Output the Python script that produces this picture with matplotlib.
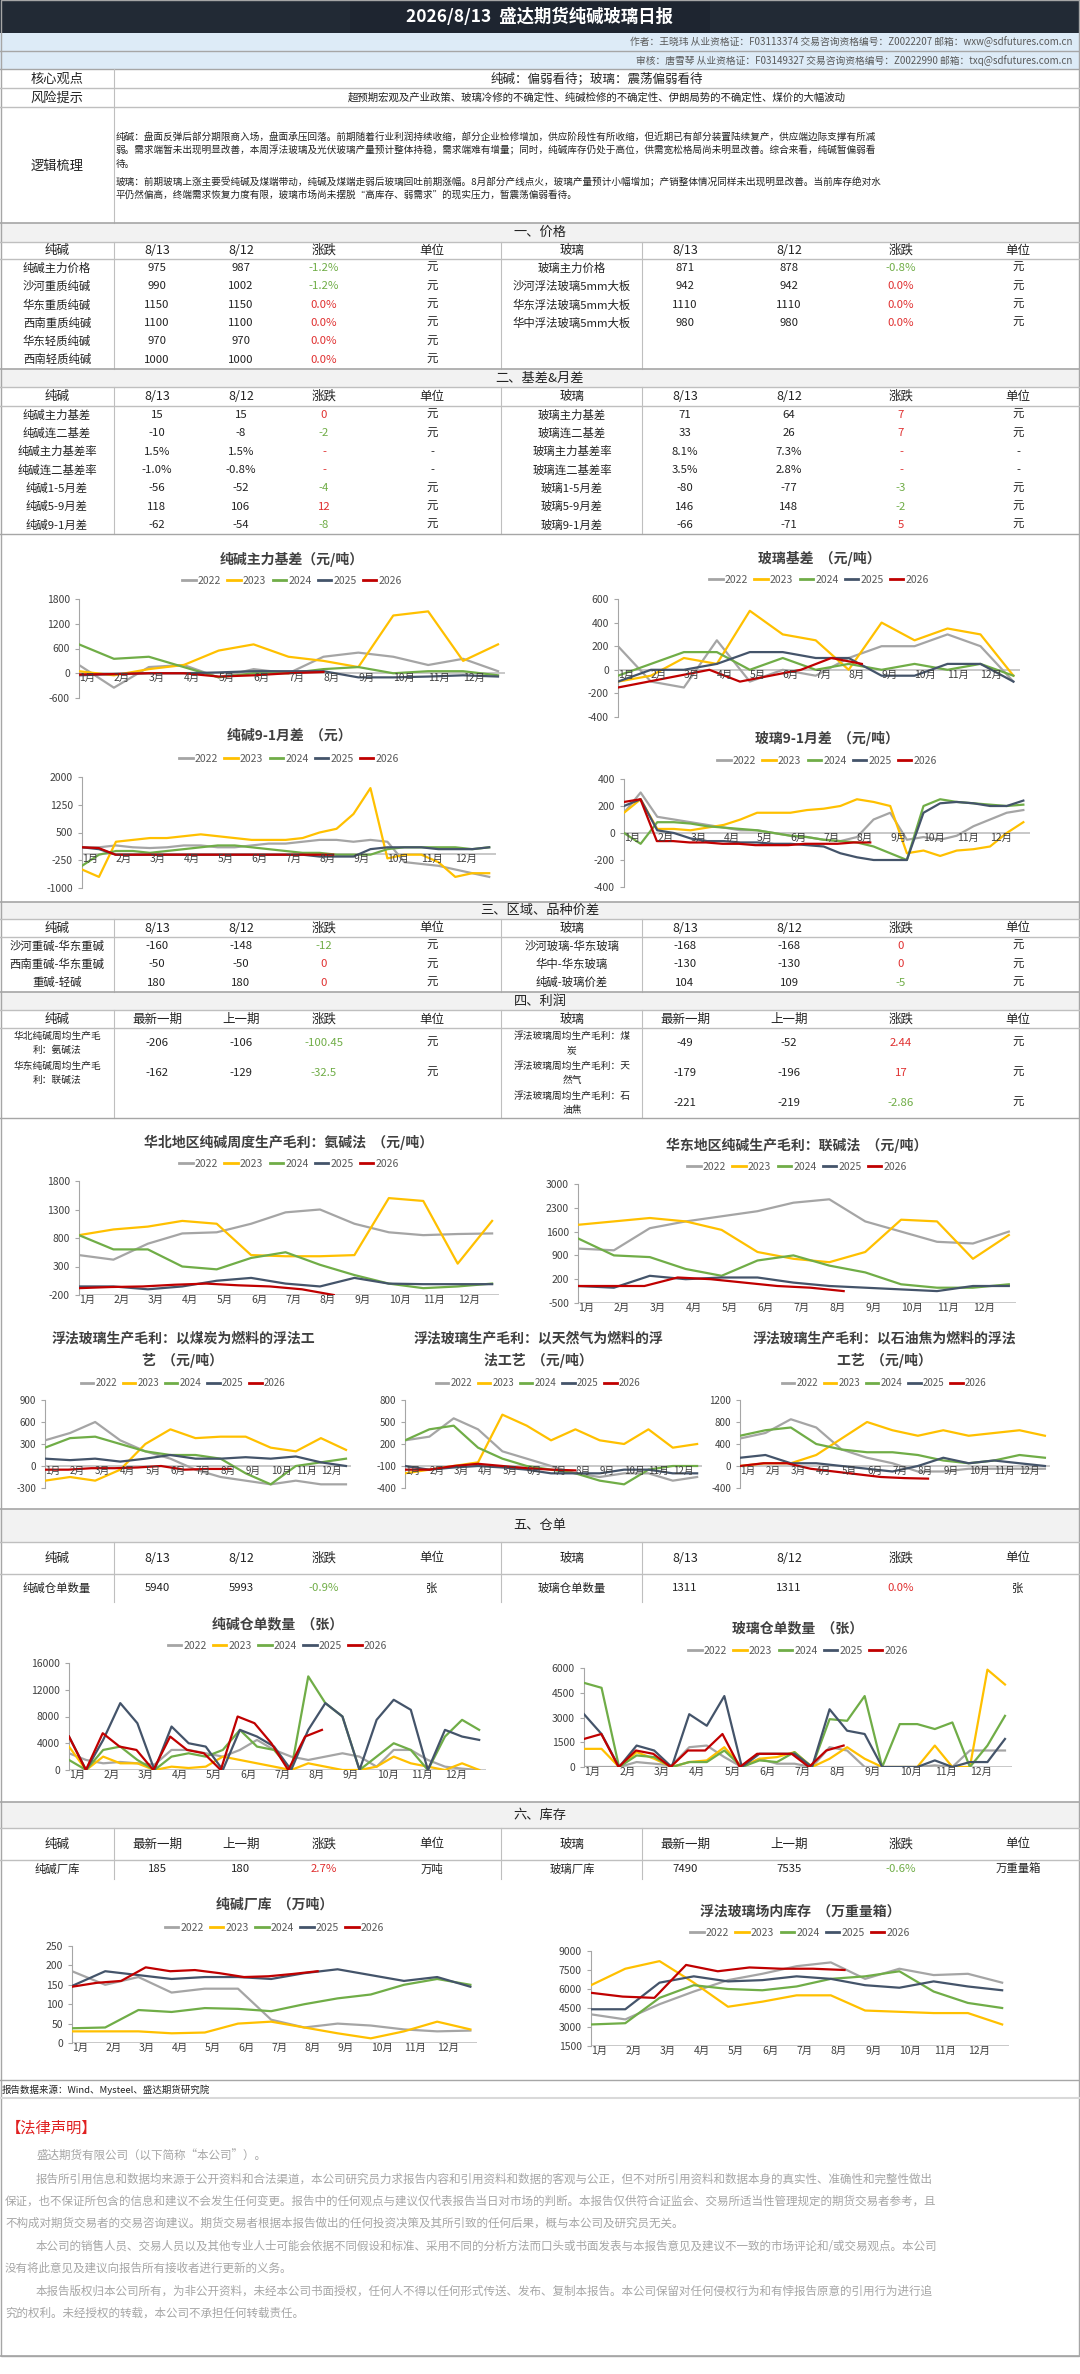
import numpy as np
import matplotlib
matplotlib.use("Agg")
import matplotlib.pyplot as plt
from matplotlib.patches import Rectangle

plt.rcParams['font.family'] = ['Noto Sans CJK SC', 'DejaVu Sans']
plt.rcParams['axes.unicode_minus'] = False

W, H = 1080, 2374
YEARS = ['2022', '2023', '2024', '2025', '2026']
COLORS = ['#A5A5A5', '#FFC000', '#70AD47', '#44546A', '#C00000']
MONTHS = ['1月', '2月', '3月', '4月', '5月', '6月', '7月', '8月', '9月', '10月', '11月', '12月']
END_2026 = 7.4
GREEN, RED = '#70AD47', '#E03030'

# ---------------- table data ----------------
price_soda = [['纯碱主力价格', '975', '987', '-1.2%', '元'],
              ['沙河重质纯碱', '990', '1002', '-1.2%', '元'],
              ['华东重质纯碱', '1150', '1150', '0.0%', '元'],
              ['西南重质纯碱', '1100', '1100', '0.0%', '元'],
              ['华东轻质纯碱', '970', '970', '0.0%', '元'],
              ['西南轻质纯碱', '1000', '1000', '0.0%', '元']]
price_glass = [['玻璃主力价格', '871', '878', '-0.8%', '元'],
               ['沙河浮法玻璃5mm大板', '942', '942', '0.0%', '元'],
               ['华东浮法玻璃5mm大板', '1110', '1110', '0.0%', '元'],
               ['华中浮法玻璃5mm大板', '980', '980', '0.0%', '元']]
basis_soda = [['纯碱主力基差', '15', '15', '0', '元'],
              ['纯碱连二基差', '-10', '-8', '-2', '元'],
              ['纯碱主力基差率', '1.5%', '1.5%', '-', '-'],
              ['纯碱连二基差率', '-1.0%', '-0.8%', '-', '-'],
              ['纯碱1-5月差', '-56', '-52', '-4', '元'],
              ['纯碱5-9月差', '118', '106', '12', '元'],
              ['纯碱9-1月差', '-62', '-54', '-8', '元']]
basis_glass = [['玻璃主力基差', '71', '64', '7', '元'],
               ['玻璃连二基差', '33', '26', '7', '元'],
               ['玻璃主力基差率', '8.1%', '7.3%', '-', '-'],
               ['玻璃连二基差率', '3.5%', '2.8%', '-', '-'],
               ['玻璃1-5月差', '-80', '-77', '-3', '元'],
               ['玻璃5-9月差', '146', '148', '-2', '元'],
               ['玻璃9-1月差', '-66', '-71', '5', '元']]
spread_soda = [['沙河重碱-华东重碱', '-160', '-148', '-12', '元'],
               ['西南重碱-华东重碱', '-50', '-50', '0', '元'],
               ['重碱-轻碱', '180', '180', '0', '元']]
spread_glass = [['沙河玻璃-华东玻璃', '-168', '-168', '0', '元'],
                ['华中-华东玻璃', '-130', '-130', '0', '元'],
                ['纯碱-玻璃价差', '104', '109', '-5', '元']]
profit_soda = [['华北纯碱周均生产毛\n利：氨碱法', '-206', '-106', '-100.45', '元'],
               ['华东纯碱周均生产毛\n利：联碱法', '-162', '-129', '-32.5', '元']]
profit_glass = [['浮法玻璃周均生产毛利：煤\n炭', '-49', '-52', '2.44', '元'],
                ['浮法玻璃周均生产毛利：天\n然气', '-179', '-196', '17', '元'],
                ['浮法玻璃周均生产毛利：石\n油焦', '-221', '-219', '-2.86', '元']]
wr_soda = [['纯碱仓单数量', '5940', '5993', '-0.9%', '张']]
wr_glass = [['玻璃仓单数量', '1311', '1311', '0.0%', '张']]
inv_soda = [['纯碱厂库', '185', '180', '2.7%', '万吨']]
inv_glass = [['玻璃厂库', '7490', '7535', '-0.6%', '万重量箱']]

# ---------------- chart data ----------------
basis_soda_s = {
    '2022': [200, -350, 150, 200, -100, 100, 0, 400, 500, 400, 200, 350, 50],
    '2023': [50, -50, 100, 200, 550, 700, 400, 300, 150, 1400, 1500, 300, 700],
    '2024': [700, 350, 400, 150, -100, 0, 0, 100, 150, 0, 50, 50, -50],
    '2025': [-50, -20, 0, 0, 20, 50, 50, 50, -100, -100, -80, -50, -80],
    '2026': [-30, -20, 0, 0, -80, -50, 0, 30]}
basis_glass_s = {
    '2022': [200, -100, -150, 250, -100, 0, -50, 100, 200, 200, 300, 200, -100],
    '2023': [-100, -50, 100, 50, 500, 300, 250, 0, 400, 250, 350, 300, -50],
    '2024': [-50, 50, 150, 150, 0, 100, 0, 50, 0, 50, 0, 50, -50],
    '2025': [-100, 0, 0, 50, 150, 150, 100, 100, -50, -50, 50, 50, -100],
    '2026': [-150, -100, -50, 0, -100, -50, 0, 100, 50]}
s91_soda_s = {
    '2022': [100, 100, 150, 100, 80, 100, 150, 150, 100, 100, 150, 200, 200, 250, 300, 300, 250, 300, 250, -300, -350, -400, -500, -600, -700],
    '2023': [-500, -700, 250, 300, 350, 350, 400, 450, 400, 350, 300, 300, 300, 350, 500, 600, 1000, 1700, -200, -100, -100, -300, -700, -600, -600],
    '2024': [-400, -100, 0, 0, -50, 0, 50, 100, 150, 150, 100, 50, 0, -50, -50, -100, -100, -100, 50, 100, 100, 100, 100, 50, 100],
    '2025': [100, 50, -100, -100, -100, -100, -100, -100, -100, -100, -100, -100, -100, -100, -150, -150, -150, 50, 100, 100, 100, 50, 50, 50, 100],
    '2026': [100, 80, -100, -100, -100, -100, -100, -100, -100, -100, -100, -100, -100, -100, -100, -100]}
s91_glass_s = {
    '2022': [150, 300, 120, 100, 80, 60, 40, 20, 20, 0, -20, -30, -50, -60, -30, 100, 150, -50, -30, -50, -20, 50, 100, 150, 170],
    '2023': [150, 250, 30, 30, 20, 40, 60, 100, 150, 150, 150, 170, 180, 200, 250, 230, 200, -150, -130, -170, -130, -120, -100, 0, 80],
    '2024': [0, -80, 80, 80, 70, 50, 40, 30, 20, 0, -20, -30, -50, -60, -70, -100, -150, -200, 200, 250, 230, 220, 210, 200, 210],
    '2025': [200, 250, 20, 0, -40, -60, -60, -70, -70, -80, -80, -90, -100, -150, -180, -200, -200, -200, 150, 220, 230, 220, 200, 200, 240],
    '2026': [230, 250, -60, -60, -70, -70, -80, -80, -90, -90, -90, -80, -80, -80, -70, -70]}
prof_am_s = {
    '2022': [500, 420, 700, 880, 900, 1050, 1250, 1300, 1050, 900, 850, 870, 880],
    '2023': [850, 950, 1000, 1100, 1050, 500, 480, 480, 500, 1500, 1450, 350, 1100],
    '2024': [850, 600, 600, 300, 250, 450, 550, 330, 150, 0, -80, -50, 0],
    '2025': [-50, -50, -100, -50, 50, 100, 0, -50, 100, 0, -10, -10, -10],
    '2026': [-80, -60, -50, -20, 0, -30, -50, -100, -200]}
prof_lj_s = {
    '2022': [1100, 1050, 1700, 1900, 2050, 2200, 2450, 2550, 1900, 1600, 1300, 1250, 1600],
    '2023': [1800, 1900, 2000, 1900, 1650, 1000, 800, 700, 1000, 1950, 1900, 800, 1500],
    '2024': [1400, 900, 850, 500, 300, 750, 900, 600, 400, 50, -50, -50, 50],
    '2025': [0, -50, 300, 200, 250, 250, 100, 0, -50, -100, -150, 0, 0],
    '2026': [0, 0, 0, 250, 200, 100, 0, -50, -150]}
prof_coal_s = {
    '2022': [350, 450, 600, 350, 200, 100, -50, -150, -200, -250, -200, -250, -250],
    '2023': [-200, -150, -200, -50, 300, 500, 380, 400, 400, 250, 200, 380, 220],
    '2024': [250, 380, 400, 300, 200, 150, 150, 100, -100, -250, 0, 50, 100],
    '2025': [100, 80, 100, 60, 100, 150, 100, 100, 120, 100, 130, 50, 0],
    '2026': [-50, -50, -30, -30, -20, 0, -50, -40, -40]}
prof_gas_s = {
    '2022': [250, 300, 550, 400, 100, 0, -100, -200, -250, -200, -200, -300, -250],
    '2023': [-200, -150, -100, -50, 600, 450, 250, 400, 250, 200, 400, 150, 200],
    '2024': [250, 400, 450, 150, 0, -100, -150, -200, -300, -350, -150, -100, -100],
    '2025': [-100, -150, -120, -100, -120, -150, -200, -200, -200, -150, -150, -200, -200],
    '2026': [-150, -150, -100, -70, -100, -130, -150, -160]}
prof_coke_s = {
    '2022': [500, 600, 850, 700, 300, 150, 50, -100, -100, -50, -50, -50, -50],
    '2023': [0, 50, 50, 200, 500, 800, 650, 550, 650, 550, 600, 650, 550],
    '2024': [550, 650, 700, 400, 300, 250, 250, 200, 100, 50, 100, 200, 150],
    '2025': [150, 200, 50, 50, 0, -50, -100, 0, 150, 50, 100, 50, 0],
    '2026': [0, 50, 50, -50, -100, -150, -200, -220, -230]}
wr_soda_s = {
    '2022': [2500, 1500, 1000, 1200, 1000, 800, 3000, 3000, 2500, 2000, 3000, 4500, 3000, 2000, 1500, 2000, 2500, 2000, 500, 3000, 3000, 1500, 500, 200, 0],
    '2023': [3500, 0, 2000, 1000, 1000, 0, 500, 300, 500, 2000, 1500, 1000, 500, 0, 1000, 500, 0, 0, 500, 2000, 1000, 500, 0, 1000, 0],
    '2024': [1500, 0, 3000, 3500, 1500, 0, 2000, 2500, 2000, 3000, 6000, 3500, 3000, 0, 14000, 10000, 8000, 0, 2000, 4000, 3000, 0, 5000, 7500, 6000],
    '2025': [5000, 0, 4500, 10000, 7000, 0, 6500, 4000, 3500, 0, 6000, 5000, 3500, 0, 6000, 10000, 8000, 0, 7500, 10500, 9000, 0, 6000, 5000, 4500],
    '2026': [5000, 0, 5500, 3500, 3000, 0, 5000, 3000, 2500, 0, 8000, 7000, 4000, 0, 5000, 6000]}
wr_glass_s = {
    '2022': [0, 0, 0, 300, 200, 100, 1200, 1300, 600, 0, 500, 200, 200, 0, 1200, 1000, 0, 0, 0, 0, 100, 0, 1000, 1000, 1000],
    '2023': [1100, 1100, 0, 900, 500, 0, 300, 400, 1200, 0, 500, 600, 900, 0, 500, 1200, 500, 0, 0, 0, 1300, 0, 0, 5900, 5000],
    '2024': [5100, 4800, 0, 700, 600, 0, 300, 300, 1000, 0, 400, 300, 900, 0, 2900, 2800, 4300, 0, 2600, 2600, 2300, 2700, 0, 1300, 3100],
    '2025': [3200, 2000, 0, 1300, 1000, 0, 3200, 2500, 4300, 0, 800, 800, 800, 0, 3500, 2200, 2000, 0, 0, 0, 400, 0, 300, 300, 1700],
    '2026': [1700, 2000, 0, 1000, 800, 0, 1000, 1000, 2000, 0, 800, 800, 800, 0, 1000, 1300]}
inv_soda_s = {
    '2022': [185, 150, 170, 130, 140, 140, 60, 40, 50, 45, 35, 30, 32],
    '2023': [30, 30, 30, 25, 27, 50, 55, 40, 25, 12, 30, 55, 35],
    '2024': [38, 40, 85, 80, 90, 88, 82, 100, 115, 125, 150, 165, 150],
    '2025': [147, 185, 175, 165, 170, 170, 165, 180, 190, 175, 160, 170, 145],
    '2026': [145, 155, 160, 195, 185, 188, 180, 170, 172, 178, 185]}
inv_glass_s = {
    '2022': [4000, 3600, 4800, 5800, 6700, 7200, 7800, 8100, 6800, 7600, 7100, 7200, 6500],
    '2023': [6300, 7600, 8200, 6500, 4600, 5000, 5500, 5500, 4300, 4200, 4100, 4100, 3200],
    '2024': [3200, 3300, 5300, 6300, 6000, 5900, 6200, 6800, 7000, 7400, 5800, 4900, 4500],
    '2025': [4400, 4400, 6500, 7000, 6600, 6700, 7000, 6800, 6300, 6100, 6600, 6200, 5900],
    '2026': [5700, 5400, 5300, 7900, 7400, 7700, 7600, 7600, 7500]}

# ---------------- drawing helpers ----------------
fig = plt.figure(figsize=(W / 100, H / 100), dpi=100)
fig.patch.set_facecolor('white')


def X(x): return x / W
def Y(y): return 1 - y / H


def rect(x0, y0, x1, y1, fc, ec='none', lw=0):
    fig.patches.append(Rectangle((X(x0), Y(y1)), (x1 - x0) / W, (y1 - y0) / H,
                                 transform=fig.transFigure, fc=fc, ec=ec, lw=lw, zorder=0))


def hl(y, x0=0, x1=W, c='#BFBFBF', lw=1.0):
    fig.add_artist(plt.Line2D([X(x0), X(x1)], [Y(y), Y(y)], color=c, lw=lw, transform=fig.transFigure))


def vl(x, y0, y1, c='#BFBFBF', lw=0.8):
    fig.add_artist(plt.Line2D([X(x), X(x)], [Y(y0), Y(y1)], color=c, lw=lw, transform=fig.transFigure))


def T(x, y, s, size=8.5, color='#222222', ha='center', va='center', weight='normal', **kw):
    fig.text(X(x), Y(y), s, fontsize=size, color=color, ha=ha, va=va, weight=weight, **kw)


COLS = [57, 157, 241, 324, 432, 572, 685, 789, 901, 1018]


def section(y0, y1, title):
    rect(0, y0, W, y1, '#F2F2F2')
    hl(y0, c='#A6A6A6', lw=1.2)
    hl(y1, c='#BFBFBF')
    T(540, (y0 + y1) / 2, title, size=9.5)


def chg_color(s):
    if s in ('-',):
        return RED
    return GREEN if s.startswith('-') else RED


def table(y0, hdr, left, right, row_h, size=8.2, name_size=None):
    hh = hdr[1]
    for i, s in enumerate(hdr[0]):
        T(COLS[i], (y0 + hh) / 2, s, size=9)
    hl(hh, c='#BFBFBF')
    n = max(len(left), len(right))
    yend = hh + n * row_h
    for rows, off in ((left, 0), (right, 5)):
        for r, row in enumerate(rows):
            yc = hh + (r + 0.5) * row_h
            for j, s in enumerate(row):
                col = '#222222'
                if j == 3:
                    col = chg_color(s)
                fs = name_size if (j == 0 and name_size) else size
                T(COLS[off + j], yc, s, size=fs, color=col, linespacing=1.5)
    for x in (114, 501, 642):
        vl(x, y0, yend)
    return yend


def chart(box, title, data, ylim, yticks, legend_y, title_y, title_size=10, dense_end=None,
          label_at=None, title_x=None, fs=7.5):
    x0, yt, x1, yb = box
    ax = fig.add_axes([X(x0), Y(yb), (x1 - x0) / W, (yb - yt) / H])
    for k, yr in enumerate(YEARS):
        v = data[yr]
        if yr == '2026':
            n_full = len(data['2022'])
            step = 12 / (n_full - 1)
            xs = np.arange(len(v)) * step
            xs = xs * (END_2026 / xs[-1]) if xs[-1] > END_2026 else xs
        else:
            xs = np.linspace(0, 12, len(v))
        ax.plot(xs, v, color=COLORS[k], lw=1.6, label=yr, zorder=3 + k)
    ax.set_xlim(0, 12.2)
    ax.set_ylim(*ylim)
    ax.set_yticks(yticks)
    ax.tick_params(axis='y', labelsize=fs, colors='#404040', length=3, color='#A6A6A6')
    ax.set_xticks([])
    for sp in ('top', 'right', 'bottom'):
        ax.spines[sp].set_visible(False)
    ax.spines['left'].set_color('#A6A6A6')
    base = ylim[0] if label_at is None else label_at
    ax.axhline(base, color='#BFBFBF', lw=1.2, zorder=1)
    for i, m in enumerate(MONTHS):
        ax.text(i, base, m, fontsize=fs, color='#404040', ha='left', va='top',
                transform=ax.transData, zorder=10)
        ax.plot([i, i], [base, base], alpha=0)
    # offset month labels slightly below
    ax.patch.set_alpha(0)
    cx = (x0 + x1) / 2 if title_x is None else title_x
    T(cx, title_y, title, size=title_size, weight='bold', color='#404040', linespacing=1.6)
    hnd = [plt.Line2D([], [], color=c, lw=2) for c in COLORS]
    fig.legend(hnd, YEARS, loc='center', bbox_to_anchor=(X(cx), Y(legend_y)), ncol=5,
               frameon=False, fontsize=fs, handlelength=1.3, handletextpad=0.2,
               columnspacing=0.6, labelcolor='#595959')
    return ax


# ---------------- header ----------------
rect(0, 0, W, 33, '#222A35')
rect(350, 0, 710, 33, '#1E2530')
T(540, 17, '2026/8/13  盛达期货纯碱玻璃日报', size=12.5, color='white', weight='bold')
rect(0, 33, W, 69, '#DDEBF7')
hl(51, c='#A6A6A6')
T(1072, 42, '作者：王晓玮 从业资格证：F03113374 交易咨询资格编号：Z0022207 邮箱：wxw@sdfutures.com.cn',
  size=7, color='#595959', ha='right')
T(1072, 61, '审核：唐雪琴 从业资格证：F03149327 交易咨询资格编号：Z0022990 邮箱：txq@sdfutures.com.cn',
  size=7, color='#595959', ha='right')
hl(69, c='#A6A6A6')
T(57, 79, '核心观点', size=9.5)
T(597, 79, '纯碱：偏弱看待；玻璃：震荡偏弱看待', size=9)
hl(88, c='#BFBFBF')
T(57, 98, '风险提示', size=9.5)
T(597, 98, '超预期宏观及产业政策、玻璃冷修的不确定性、纯碱检修的不确定性、伊朗局势的不确定性、煤价的大幅波动', size=7.5)
hl(107, c='#BFBFBF')
T(57, 166, '逻辑梳理', size=9.5)
vl(114, 69, 223)
logic = ['纯碱：盘面反弹后部分期限商入场，盘面承压回落。前期随着行业利润持续收缩，部分企业检修增加，供应阶段性有所收缩，但近期已有部分装置陆续复产，供应端边际支撑有所减',
         '弱。需求端暂未出现明显改善，本周浮法玻璃及光伏玻璃产量预计整体持稳，需求端难有增量；同时，纯碱库存仍处于高位，供需宽松格局尚未明显改善。综合来看，纯碱暂偏弱看',
         '待。',
         '玻璃：前期玻璃上涨主要受纯碱及煤端带动，纯碱及煤端走弱后玻璃回吐前期涨幅。8月部分产线点火，玻璃产量预计小幅增加；产销整体情况同样未出现明显改善。当前库存绝对水',
         '平仍然偏高，终端需求恢复力度有限，玻璃市场尚未摆脱“高库存、弱需求”的现实压力，暂震荡偏弱看待。']
for i, (s, yy) in enumerate(zip(logic, [137, 150, 164, 182, 195])):
    T(116, yy, s, size=6.9, ha='left')

# ---------------- sections ----------------
section(223, 242, '一、价格')
table(242, (['纯碱', '8/13', '8/12', '涨跌', '单位', '玻璃', '8/13', '8/12', '涨跌', '单位'], 259),
      price_soda, price_glass, 18.3)
section(369, 387, '二、基差&月差')
table(387, (['纯碱', '8/13', '8/12', '涨跌', '单位', '玻璃', '8/13', '8/12', '涨跌', '单位'], 406),
      basis_soda, basis_glass, 18.3)
hl(534, c='#A6A6A6')

chart((79, 599, 505, 698), '纯碱主力基差（元/吨）', basis_soda_s, (-600, 1800), [-600, 0, 600, 1200, 1800],
      581, 559, label_at=0)
chart((618, 599, 1020, 717), '玻璃基差  （元/吨）', basis_glass_s, (-400, 600), [-400, -200, 0, 200, 400, 600],
      580, 558, label_at=0)
chart((82, 777, 496, 888), '纯碱9-1月差  （元）', s91_soda_s, (-1000, 2000), [-1000, -250, 500, 1250, 2000],
      759, 736, label_at=-70)
chart((624, 779, 1030, 887), '玻璃9-1月差  （元/吨）', s91_glass_s, (-400, 400), [-400, -200, 0, 200, 400],
      761, 739, label_at=0)

section(902, 919, '三、区域、品种价差')
table(919, (['纯碱', '8/13', '8/12', '涨跌', '单位', '玻璃', '8/13', '8/12', '涨跌', '单位'], 937),
      spread_soda, spread_glass, 18.3)
section(992, 1010, '四、利润')
table(1010, (['纯碱', '最新一期', '上一期', '涨跌', '单位', '玻璃', '最新一期', '上一期', '涨跌', '单位'], 1028),
      profit_soda, profit_glass, 30, name_size=7)
hl(1118, c='#A6A6A6')

chart((79, 1181, 499, 1295), '华北地区纯碱周度生产毛利：氨碱法  （元/吨）', prof_am_s, (-200, 1800),
      [-200, 300, 800, 1300, 1800], 1164, 1142, label_at=-200)
chart((578, 1184, 1016, 1303), '华东地区纯碱生产毛利：联碱法  （元/吨）', prof_lj_s, (-500, 3000),
      [-500, 200, 900, 1600, 2300, 3000], 1167, 1145, label_at=-500)
chart((45, 1400, 351, 1488), '浮法玻璃生产毛利：以煤炭为燃料的浮法工\n艺  （元/吨）', prof_coal_s, (-300, 900),
      [-300, 0, 300, 600, 900], 1383, 1350, label_at=0, title_x=183, fs=7)
chart((405, 1400, 702, 1488), '浮法玻璃生产毛利：以天然气为燃料的浮\n法工艺  （元/吨）', prof_gas_s, (-400, 800),
      [-400, -100, 200, 500, 800], 1383, 1350, label_at=-100, title_x=538, fs=7)
chart((740, 1400, 1050, 1488), '浮法玻璃生产毛利：以石油焦为燃料的浮法\n工艺  （元/吨）', prof_coke_s, (-400, 1200),
      [-400, 0, 400, 800, 1200], 1383, 1350, label_at=0, title_x=884, fs=7)

section(1509, 1542, '五、仓单')
table(1542, (['纯碱', '8/13', '8/12', '涨跌', '单位', '玻璃', '8/13', '8/12', '涨跌', '单位'], 1574),
      wr_soda, wr_glass, 28)
chart((69, 1663, 486, 1770), '纯碱仓单数量  （张）', wr_soda_s, (0, 16000), [0, 4000, 8000, 12000, 16000],
      1646, 1624)
chart((584, 1668, 1012, 1767), '玻璃仓单数量  （张）', wr_glass_s, (0, 6000), [0, 1500, 3000, 4500, 6000],
      1651, 1628)

section(1802, 1828, '六、库存')
table(1828, (['纯碱', '最新一期', '上一期', '涨跌', '单位', '玻璃', '最新一期', '上一期', '涨跌', '单位'], 1860),
      inv_soda, inv_glass, 19)
chart((72, 1946, 477, 2043), '纯碱厂库  （万吨）', inv_soda_s, (0, 250), [0, 50, 100, 150, 200, 250],
      1928, 1905)
chart((591, 1951, 1009, 2046), '浮法玻璃场内库存  （万重量箱）', inv_glass_s, (1500, 9000),
      [1500, 3000, 4500, 6000, 7500, 9000], 1933, 1912)

hl(2080, c='#A6A6A6')
T(2, 2090, '报告数据来源：Wind、Mysteel、盛达期货研究院', size=6.8, ha='left')
hl(2098, c='#D9D9D9', lw=1.5)
T(6, 2128, '【法律声明】', size=11, color='#E02020', ha='left')
legal = [(36, 2156, '盛达期货有限公司（以下简称“本公司”）。'),
         (36, 2179, '报告所引用信息和数据均来源于公开资料和合法渠道，本公司研究员力求报告内容和引用资料和数据的客观与公正，但不对所引用资料和数据本身的真实性、准确性和完整性做出'),
         (5, 2201, '保证，也不保证所包含的信息和建议不会发生任何变更。报告中的任何观点与建议仅代表报告当日对市场的判断。本报告仅供符合证监会、交易所适当性管理规定的期货交易者参考，且'),
         (5, 2223, '不构成对期货交易者的交易咨询建议。期货交易者根据本报告做出的任何投资决策及其所引致的任何后果，概与本公司及研究员无关。'),
         (36, 2246, '本公司的销售人员、交易人员以及其他专业人士可能会依据不同假设和标准、采用不同的分析方法而口头或书面发表与本报告意见及建议不一致的市场评论和/或交易观点。本公司'),
         (5, 2268, '没有将此意见及建议向报告所有接收者进行更新的义务。'),
         (36, 2291, '本报告版权归本公司所有，为非公开资料，未经本公司书面授权，任何人不得以任何形式传送、发布、复制本报告。本公司保留对任何侵权行为和有悖报告原意的引用行为进行追'),
         (5, 2313, '究的权利。未经授权的转载，本公司不承担任何转载责任。')]
for x, y, s in legal:
    T(x, y, s, size=8.3 if x == 5 else 8.3, color='#A6A6A6', ha='left')
hl(2356, c='#A6A6A6', lw=1.2)
# outer border
fig.add_artist(Rectangle((0.0005, Y(2356)), 0.999, 2356 / H - 0.0002, fill=False, ec='#A6A6A6', lw=1,
                         transform=fig.transFigure))

fig.savefig('out.png', dpi=100)
